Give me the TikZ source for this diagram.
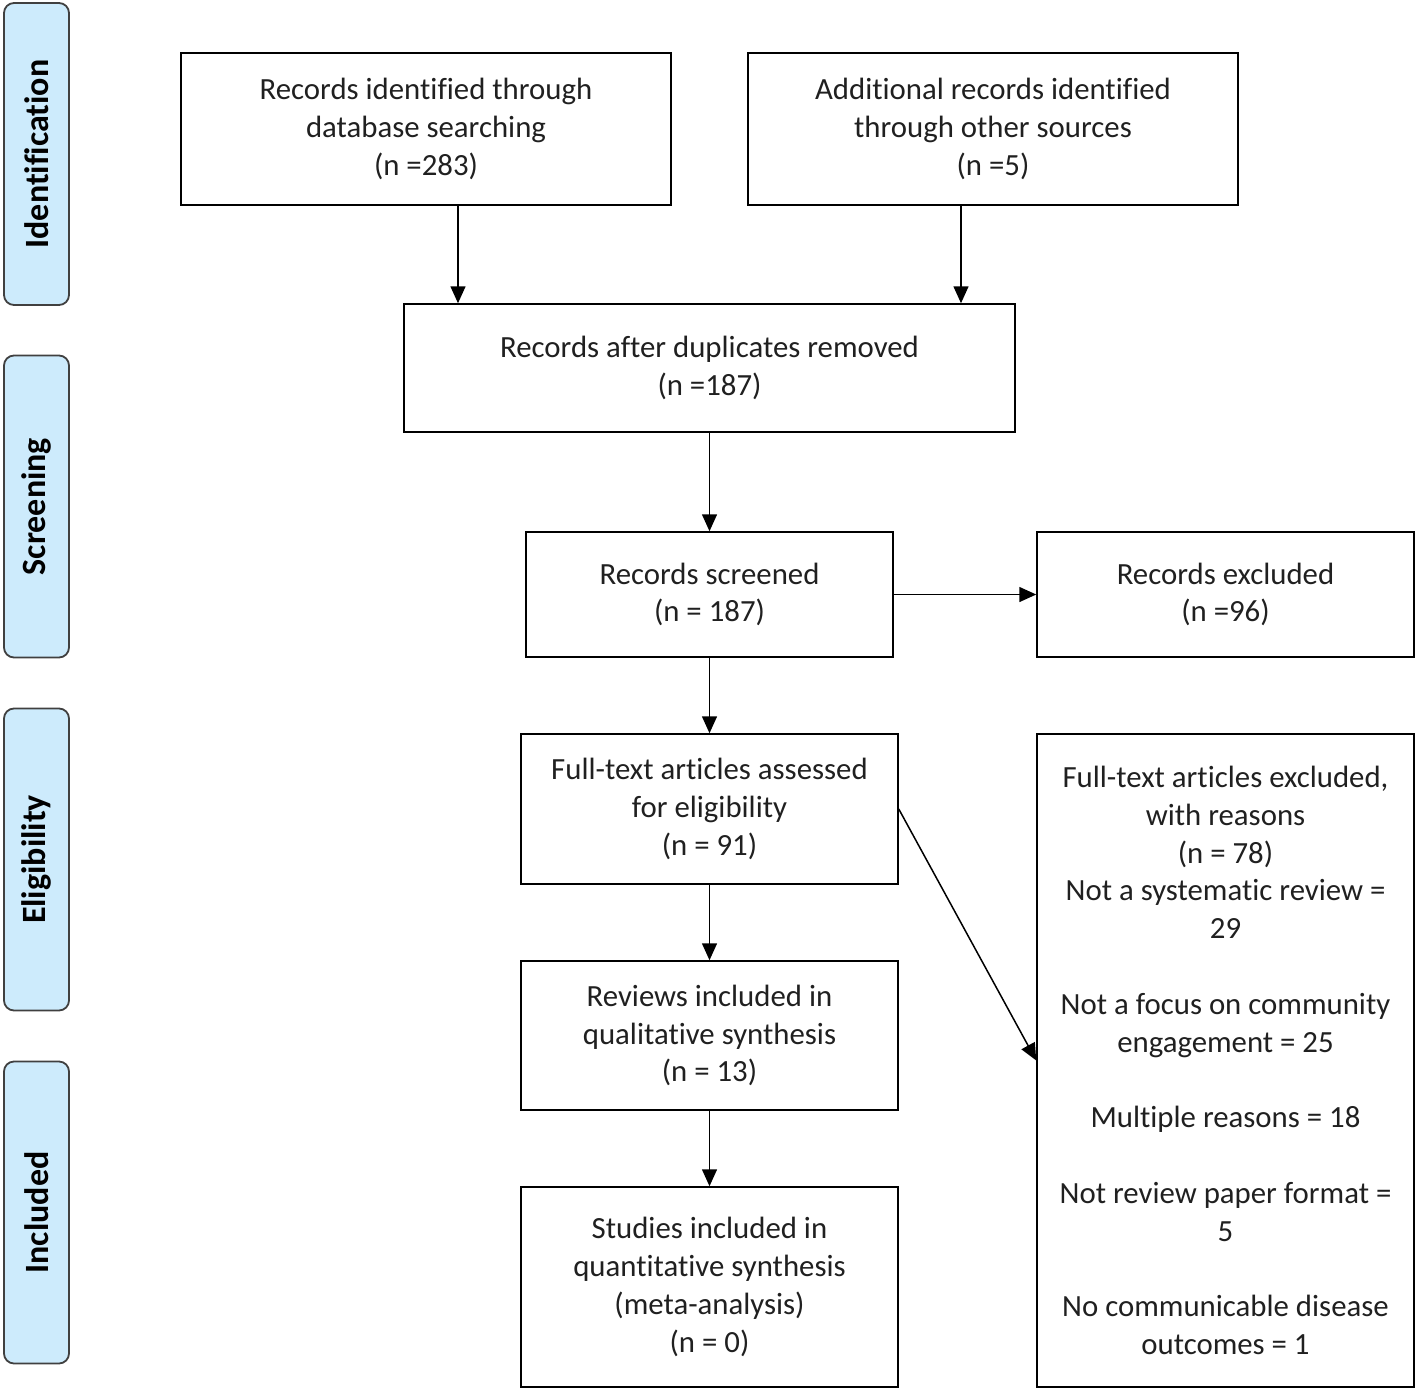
\documentclass[tikz,border=0pt]{standalone}
\usepackage{fontspec}
\setmainfont[Ligatures=NoCommon]{Carlito}
\usetikzlibrary{arrows.meta,calc}
\definecolor{phasefill}{HTML}{CDEBFC}
\definecolor{ink}{HTML}{202020}

\tikzset{
  box/.style={draw, line width=0.75pt, align=center, inner sep=0pt, text=ink,
    font=\fontsize{15.4}{18.9}\selectfont},
  phasebox/.style={draw=black!75, fill=phasefill, rounded corners=5pt, line width=0.9pt,
    rotate=90, minimum width=151pt, minimum height=32.5pt, inner sep=0pt,
    font=\fontsize{17}{19}\selectfont\bfseries},
  arr/.style={-{Triangle[length=8.5pt,width=7.5pt]}, line width=0.75pt}
}

\begin{document}
\begin{tikzpicture}[x=0.5pt, y=-0.5pt]
    \useasboundingbox (0,0) rectangle (1418,1392);

    % phase labels down the left side
    \foreach \name/\y in {Identification/154, Screening/506.5, Eligibility/859.5, Included/1212.5} {
        \node[phasebox] (ph-\name) at (36.5,\y) {\name};
    }

    % identification
    \node[box, minimum width=245pt, minimum height=76pt] (dbrec) at (426,129)
        {Records identified through\\database searching\\(n =283)};
    \node[box, minimum width=245pt, minimum height=76pt] (otherrec) at (993,129)
        {Additional records identified\\through other sources\\(n =5)};

    % screening
    \node[box, minimum width=305.5pt, minimum height=64pt] (dedup) at (709.5,368)
        {Records after duplicates removed\\(n =187)};
    \node[box, minimum width=183.5pt, minimum height=62.5pt] (screened) at (709.5,594.5)
        {Records screened\\(n = 187)};
    \node[box, minimum width=188.5pt, minimum height=62.5pt] (excl) at (1225.5,594.5)
        {Records excluded\\(n =96)};

    % eligibility
    \node[box, minimum width=188.5pt, minimum height=75pt] (fulltext) at (709.5,809)
        {Full-text articles assessed\\for eligibility\\(n = 91)};
    \node[box, minimum width=188.5pt, minimum height=326.5pt] (ftexcl) at (1225.5,1060.5)
        {Full-text articles excluded,\\with reasons\\(n = 78)\\Not a systematic review =\\29\\[18.9pt]
         Not a focus on community\\engagement = 25\\[18.9pt]Multiple reasons = 18\\[18.9pt]
         Not review paper format =\\5\\[18.9pt]No communicable disease\\outcomes = 1};

    % included
    \node[box, minimum width=188.5pt, minimum height=74.5pt] (qual) at (709.5,1035.5)
        {Reviews included in\\qualitative synthesis\\(n = 13)};
    \node[box, minimum width=188.5pt, minimum height=100pt] (quant) at (709.5,1287)
        {Studies included in\\quantitative synthesis\\(meta-analysis)\\(n = 0)};

    \draw[arr] ([xshift=16pt]dbrec.south) -- ([xshift=16pt]dbrec.south |- dedup.north);
    \draw[arr] ([xshift=-16pt]otherrec.south) -- ([xshift=-16pt]otherrec.south |- dedup.north);
    \draw[arr] (dedup) -- (screened);
    \draw[arr] (screened) -- (excl);
    \draw[arr] (screened) -- (fulltext);
    \draw[arr] (fulltext.east) -- (ftexcl.west);
    \draw[arr] (fulltext) -- (qual);
    \draw[arr] (qual) -- (quant);
\end{tikzpicture}
\end{document}
